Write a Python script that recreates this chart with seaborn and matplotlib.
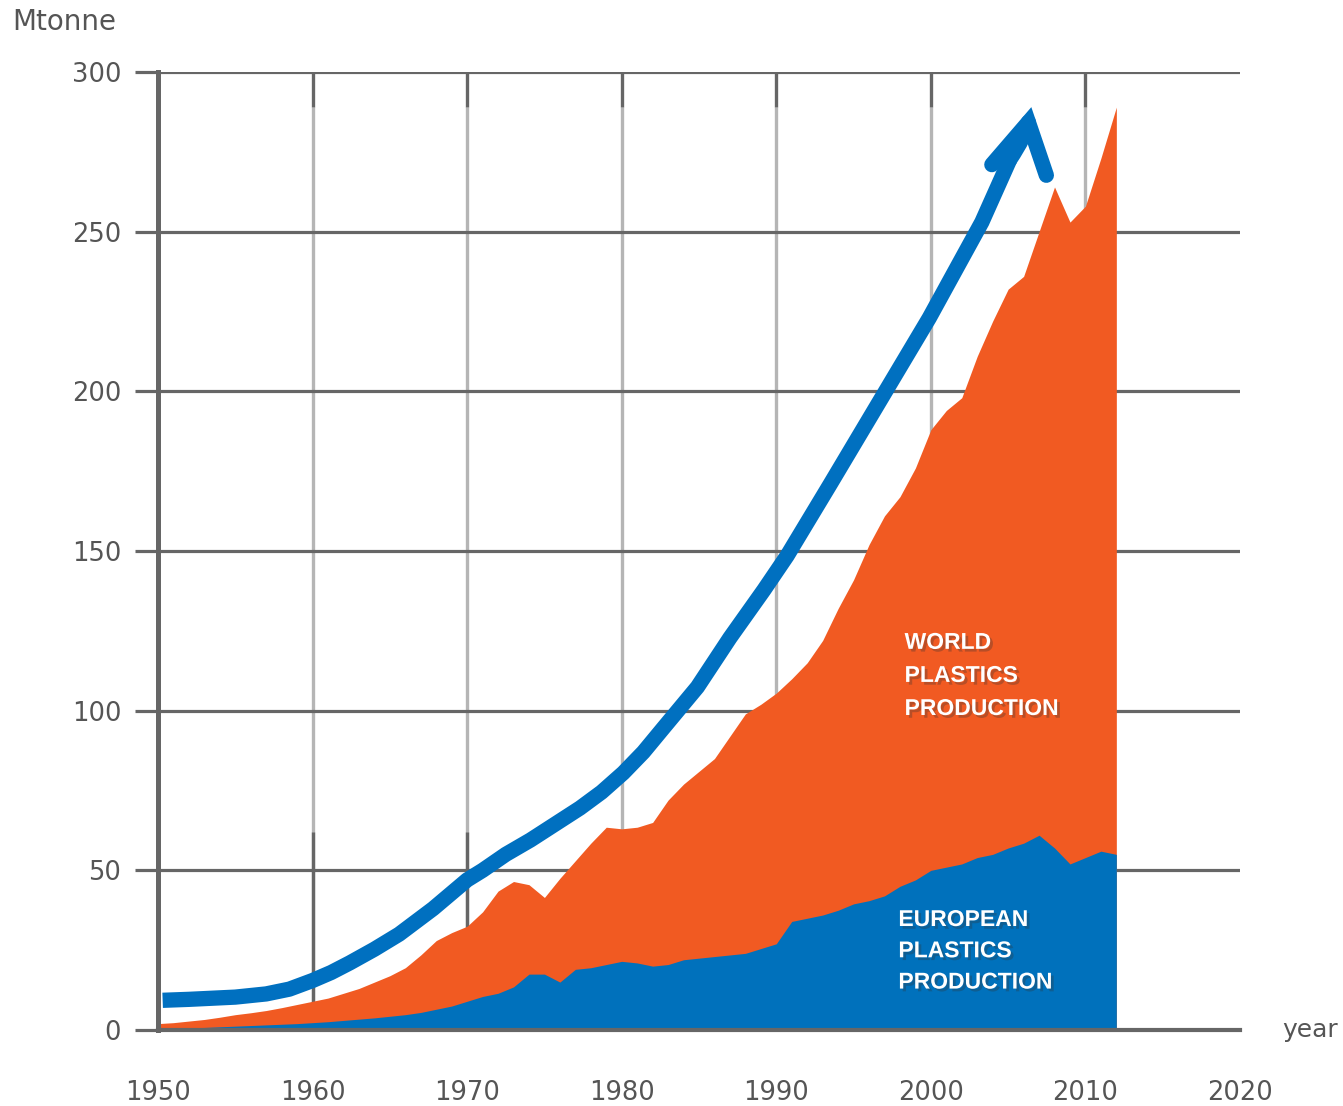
import matplotlib
matplotlib.use("Agg")
import matplotlib.pyplot as plt
import matplotlib.patheffects as pe
import seaborn as sns
import pandas as pd

# ---------------- data ----------------
years = list(range(1950, 2013))
world = [2.0, 2.3, 2.8, 3.3, 4.0, 4.8, 5.4, 6.1, 7.0, 8.0,
         9.0, 10.0, 11.5, 13.0, 15.0, 17.0, 19.5, 23.5, 28.0, 30.5,
         32.5, 37.0, 43.5, 46.5, 45.5, 41.5, 47.5, 53.0, 58.5, 63.5,
         63.0, 63.5, 65.0, 72.0, 77.0, 81.0, 85.0, 92.0, 99.0, 102.0,
         105.5, 110.0, 115.0, 122.0, 132.0, 141.0, 152.0, 161.0, 167.0, 176.0,
         188.0, 194.0, 198.0, 211.0, 222.0, 232.0, 236.0, 250.0, 264.0, 253.0,
         258.0, 273.0, 289.0]
europe = [0.5, 0.6, 0.7, 0.8, 1.0, 1.2, 1.4, 1.6, 1.8, 2.0,
          2.3, 2.6, 3.0, 3.4, 3.8, 4.3, 4.8, 5.5, 6.5, 7.5,
          9.0, 10.5, 11.5, 13.5, 17.5, 17.5, 15.0, 19.0, 19.5, 20.5,
          21.5, 21.0, 20.0, 20.5, 22.0, 22.5, 23.0, 23.5, 24.0, 25.5,
          27.0, 34.0, 35.0, 36.0, 37.5, 39.5, 40.5, 42.0, 45.0, 47.0,
          50.0, 51.0, 52.0, 54.0, 55.0, 57.0, 58.5, 61.0, 57.0, 52.0,
          54.0, 56.0, 55.0]

# trend arrow drawn over the chart
arrow_x = [1950.3, 1952, 1955, 1957, 1958.5, 1960, 1961.2, 1962.4, 1964, 1965.6,
           1967.8, 1970, 1971, 1972.5, 1974.1, 1975.7, 1977.3, 1978.7, 1980.1,
           1981.4, 1982.7, 1984.9, 1987.0, 1989.2, 1990.7, 1993.5, 1996.7,
           1999.9, 2003.3, 2005.1, 2006.5]
arrow_y = [9.3, 9.6, 10.3, 11.3, 12.8, 15.5, 18.0, 21.0, 25.3, 30.0,
           38.0, 47.0, 50.0, 55.0, 59.5, 64.5, 69.5, 74.5, 80.5,
           87.0, 94.6, 107.4, 122.8, 137.8, 148.5, 171.0, 197.0,
           223.0, 253.0, 272.5, 289.0]

x_ticks = [1950, 1960, 1970, 1980, 1990, 2000, 2010, 2020]
y_ticks = [0, 50, 100, 150, 200, 250, 300]
label_world = "WORLD\nPLASTICS\nPRODUCTION"
label_europe = "EUROPEAN\nPLASTICS\nPRODUCTION"

ORANGE = "#F15A22"
BLUE = "#0071BC"
ARROW = "#0070C0"
GRID = "#666666"
LIGHT = "#b5b5b5"
TXT = "#555555"

sns.set_theme(style="white")
plt.rcParams["font.family"] = ["DejaVu Sans"]

W, H = 1343, 1106
fig = plt.figure(figsize=(W / 100, H / 100), dpi=100)
ax = fig.add_axes([158 / W, 76 / H, 1082 / W, 958 / H])

ax.set_xlim(1950, 2020)
ax.set_ylim(0, 300)
ax.set_axisbelow(True)

# vertical grid
ax.vlines(x_ticks[1:-1], 0, 289, colors=LIGHT, lw=2.4, zorder=0.4)
ax.vlines(x_ticks[1:-1], 289, 300, colors=GRID, lw=2.4, zorder=0.4)
ax.vlines(x_ticks[1:3], 0, 62, colors=GRID, lw=2.4, zorder=0.45)

# horizontal grid
ax.yaxis.grid(True, color=GRID, lw=2.3)
ax.xaxis.grid(False)

# areas
ax.fill_between(years, 0, world, color=ORANGE, lw=0, zorder=2)
ax.fill_between(years, 0, europe, color=BLUE, lw=0, zorder=2.1)

# trend arrow: body through all but the last point, last piece + head via annotate
df_arrow = pd.DataFrame({"year": arrow_x[:-1], "value": arrow_y[:-1]})
sns.lineplot(data=df_arrow, x="year", y="value", ax=ax, color=ARROW,
             lw=11, sort=False, estimator=None, zorder=3,
             solid_capstyle="butt", solid_joinstyle="round")
ax.annotate("", xy=(arrow_x[-1], arrow_y[-1]), xycoords="data",
            xytext=(arrow_x[-2], arrow_y[-2]), textcoords="data",
            arrowprops=dict(arrowstyle="->,head_length=1.75,head_width=1.0",
                            connectionstyle="arc3,rad=0.1",
                            mutation_scale=20, lw=11, color=ARROW,
                            shrinkA=0, shrinkB=0, capstyle="round",
                            joinstyle="miter"),
            zorder=3)

# spines / ticks
for s in ["top", "right"]:
    ax.spines[s].set_visible(False)
ax.spines["left"].set_color(GRID)
ax.spines["left"].set_linewidth(3.6)
ax.spines["bottom"].set_color(GRID)
ax.spines["bottom"].set_linewidth(3.0)
ax.spines["left"].set_zorder(2.5)
ax.spines["bottom"].set_zorder(2.5)

ax.set_yticks(y_ticks)
ax.set_yticklabels([str(v) for v in y_ticks])
ax.set_xticks(x_ticks)
ax.set_xticklabels([str(v) for v in x_ticks])
ax.tick_params(axis="y", direction="out", length=16.5, width=2.3, color=GRID,
               pad=10, labelsize=18.5, labelcolor=TXT, left=True)
ax.tick_params(axis="x", length=0, pad=36, labelsize=18.5, labelcolor=TXT)
ax.set_xlabel("")
ax.set_ylabel("")

# labels in areas
shadow = [pe.SimplePatchShadow(offset=(2, -2), alpha=0.3, shadow_rgbFace="#333333"),
          pe.Normal()]
lab_font = ["Liberation Sans", "DejaVu Sans"]
ax.text(1998.3, 125, label_world, color="white", fontsize=16.5, fontweight="bold",
        family=lab_font, ha="left", va="top", linespacing=1.56,
        zorder=4, path_effects=shadow, transform=ax.transData)
ax.text(1997.9, 38.2, label_europe, color="white", fontsize=16.5, fontweight="bold",
        family=lab_font, ha="left", va="top", linespacing=1.46,
        zorder=4, path_effects=shadow, transform=ax.transData)

fig.text(12 / W, 1 - 22 / H, "Mtonne", fontsize=20, color=TXT, ha="left", va="center")
fig.text(1282 / W, 1 - 1030 / H, "year", fontsize=18, color=TXT, ha="left", va="center")

fig.savefig("out.png", dpi=100)
